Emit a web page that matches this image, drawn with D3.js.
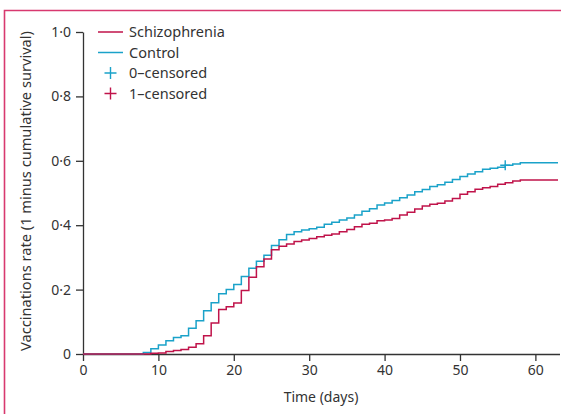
<!DOCTYPE html>
<html>
<head>
<meta charset="utf-8">
<script src="https://cdn.jsdelivr.net/npm/d3@7"></script>
<style>
  body { margin: 0; background: #fff; }
  svg { display: block; font-family: "Noto Sans", sans-serif; }
</style>
</head>
<body>
<svg width="561" height="414"></svg>
<script>
// days with a step (value holds from that day until the next)
const controlDays = [0, 8, 9, 10, 11, 12, 13, 14, 15, 16, 17, 18, 19, 20, 21, 22, 23, 24, 25, 26, 27, 28, 29, 30,
  31, 32, 33, 34, 35, 36, 37, 38, 39, 40, 41, 42, 43, 44, 45, 46, 47, 48, 49, 50, 51, 52, 53, 54, 55, 56, 57, 58, 63]
const controlRate = [0, 0.005, 0.016, 0.028, 0.041, 0.051, 0.057, 0.080, 0.103, 0.134, 0.159, 0.187, 0.200, 0.216,
  0.241, 0.266, 0.288, 0.307, 0.337, 0.355, 0.371, 0.380, 0.385, 0.389, 0.394, 0.403, 0.409, 0.416, 0.422, 0.432,
  0.443, 0.451, 0.463, 0.469, 0.477, 0.485, 0.494, 0.504, 0.511, 0.520, 0.526, 0.533, 0.542, 0.551, 0.559, 0.566,
  0.574, 0.577, 0.580, 0.586, 0.590, 0.594, 0.594]

const schizoDays = [0, 9, 10, 11, 12, 13, 14, 15, 16, 17, 18, 19, 20, 21, 22, 23, 24, 25, 26, 27, 28, 29, 30,
  31, 32, 33, 34, 35, 36, 37, 38, 39, 40, 41, 42, 43, 44, 45, 46, 47, 48, 49, 50, 51, 52, 53, 54, 55, 56, 57, 58, 63]
const schizoRate = [0, 0.002, 0.003, 0.008, 0.011, 0.014, 0.021, 0.032, 0.057, 0.096, 0.138, 0.147, 0.158, 0.197,
  0.238, 0.271, 0.295, 0.324, 0.335, 0.342, 0.349, 0.354, 0.359, 0.364, 0.369, 0.373, 0.380, 0.387, 0.395, 0.403,
  0.406, 0.414, 0.416, 0.421, 0.432, 0.440, 0.450, 0.460, 0.465, 0.468, 0.475, 0.483, 0.496, 0.504, 0.512, 0.516,
  0.520, 0.527, 0.532, 0.537, 0.540, 0.540]

// censored observations
const controlCensored = [{day: 56, rate: 0.586}]

const xTicks = [0, 10, 20, 30, 40, 50, 60]
const yTicks = [0, 0.2, 0.4, 0.6, 0.8, 1.0]
const legendLabels = ["Schizophrenia", "Control", "0\u2013censored", "1\u2013censored"]

const red = "#c0134a"
const blue = "#1aa2c9"
const ink = "#333"

const svg = d3.select("svg")

// frame
svg.append("path")
  .attr("d", "M4.5,414 V10.5 H561")
  .attr("fill", "none")
  .attr("stroke", "#d8396f")
  .attr("stroke-width", 1.6)

const x = d3.scaleLinear().domain([0, 63]).range([83, 558])
const y = d3.scaleLinear().domain([0, 1]).range([354, 32])

const fmt = d => d === 0 ? "0" : d.toFixed(1).replace(".", "\u00b7")

const xAxis = svg.append("g")
  .attr("transform", "translate(0,354)")
  .call(d3.axisBottom(x).tickValues(xTicks).tickSize(7).tickSizeOuter(0).tickPadding(4))
xAxis.select(".domain").attr("d", "M83,0.5H560")

const yAxis = svg.append("g")
  .attr("transform", "translate(83,0)")
  .call(d3.axisLeft(y).tickValues(yTicks).tickFormat(fmt).tickSize(7).tickSizeOuter(0).tickPadding(5))

svg.selectAll(".domain, .tick line").attr("stroke", ink).attr("stroke-width", 1.3)
svg.selectAll(".tick text").attr("fill", ink).attr("font-size", 14).attr("font-family", "Noto Sans")

// curves
const step = d3.line()
  .x(d => x(d[0]))
  .y(d => y(d[1]))
  .curve(d3.curveStepAfter)

svg.append("path")
  .datum(d3.zip(controlDays, controlRate))
  .attr("d", step)
  .attr("fill", "none")
  .attr("stroke", blue)
  .attr("stroke-width", 1.5)

svg.append("path")
  .datum(d3.zip(schizoDays, schizoRate))
  .attr("d", step)
  .attr("fill", "none")
  .attr("stroke", red)
  .attr("stroke-width", 1.5)

function cross(g, cx, cy, r, color) {
  g.append("path")
    .attr("d", `M${cx - r},${cy}H${cx + r}M${cx},${cy - r}V${cy + r}`)
    .attr("stroke", color)
    .attr("stroke-width", 1.4)
}

controlCensored.forEach(c => cross(svg, x(c.day), y(c.rate), 5, blue))

// legend
const legend = svg.append("g")
const legendY = [32, 52.5, 73, 93.5]
const legendColor = [red, blue, blue, red]
legendLabels.forEach((label, i) => {
  if (i < 2) {
    legend.append("line")
      .attr("x1", 98).attr("x2", 123)
      .attr("y1", legendY[i]).attr("y2", legendY[i])
      .attr("stroke", legendColor[i]).attr("stroke-width", 1.5)
  } else {
    cross(legend, 110.5, legendY[i], 6, legendColor[i])
  }
  legend.append("text")
    .attr("x", 129)
    .attr("y", legendY[i])
    .attr("dy", "0.35em")
    .attr("font-size", 14.5)
    .attr("fill", ink)
    .text(label)
})

// axis titles
svg.append("text")
  .attr("x", 321)
  .attr("y", 402)
  .attr("text-anchor", "middle")
  .attr("font-size", 14)
  .attr("fill", ink)
  .text("Time (days)")

svg.append("text")
  .attr("transform", "translate(31,191) rotate(-90)")
  .attr("text-anchor", "middle")
  .attr("font-size", 14)
  .attr("textLength", 320)
  .attr("lengthAdjust", "spacingAndGlyphs")
  .attr("fill", ink)
  .text("Vaccinations rate (1 minus cumulative survival)")
</script>
</body>
</html>
